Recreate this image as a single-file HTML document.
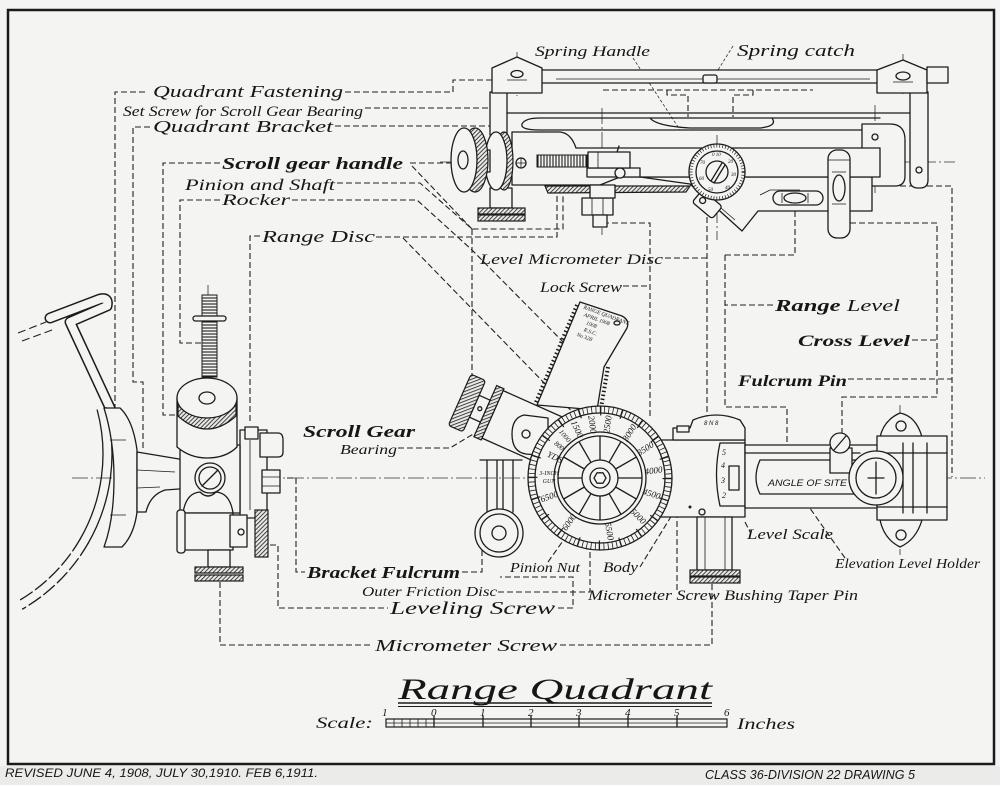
<!DOCTYPE html>
<html><head><meta charset="utf-8"><title>Range Quadrant</title>
<style>
html,body{margin:0;padding:0;background:#f4f4f2;width:1000px;height:785px;overflow:hidden}
svg{display:block}
.s{fill:none;stroke:#1c1c1c;stroke-width:1.3;stroke-linejoin:round;stroke-linecap:round}
.t{fill:none;stroke:#1c1c1c;stroke-width:0.8}
.f{fill:#f4f4f2;stroke:#1c1c1c;stroke-width:1.3;stroke-linejoin:round}
.k{fill:url(#kn);stroke:#1c1c1c;stroke-width:1.2}
.d{fill:none;stroke:#222;stroke-width:1.1;stroke-dasharray:6 3}
.c{fill:none;stroke:#333;stroke-width:0.8;stroke-dasharray:16 3 2 3}
text{fill:#161616;font-family:"Liberation Serif",serif;font-style:italic}
.b{font-weight:bold}
.sn{font-family:"Liberation Sans",sans-serif}
</style></head><body>
<svg width="1000" height="785" viewBox="0 0 1000 785" xmlns="http://www.w3.org/2000/svg">
<defs>
<pattern id="kn" width="3" height="3" patternUnits="userSpaceOnUse" patternTransform="rotate(45)"><rect width="3" height="3" fill="#e8e8e6"/><line x1="0" y1="0" x2="0" y2="3" stroke="#1c1c1c" stroke-width="1.6"/></pattern>
<pattern id="th" width="4" height="3" patternUnits="userSpaceOnUse"><rect width="4" height="3" fill="#f4f4f2"/><line x1="0" y1="1" x2="4" y2="1" stroke="#1c1c1c" stroke-width="1.1"/></pattern>
<pattern id="tv" width="3" height="4" patternUnits="userSpaceOnUse"><rect width="3" height="4" fill="#f4f4f2"/><line x1="1" y1="0" x2="1" y2="4" stroke="#1c1c1c" stroke-width="1.1"/></pattern>
</defs>

<rect x="0" y="766" width="1000" height="19" fill="#ebebe9"/>
<rect x="8" y="10" width="986" height="754" fill="none" stroke="#1a1a1a" stroke-width="2.5"/>

<!-- ================= CENTER LINES ================= -->
<path class="c" d="M440,162 L955,162"/>
<path class="c" d="M72,478 L985,478"/>
<path class="c" d="M208,285 L208,562 M602,108 L602,235 M717,135 L717,240 M875,105 L875,195 M517,52 L517,96 M903,54 L903,97 M900,405 L900,555"/>

<!-- ================= DASHED LEADERS ================= -->
<g class="d">
<path d="M115,410 L115,92 L148,92"/>
<path d="M345,92 L453,92 L453,80 L492,80"/>
<path d="M365,108 L498,108 L498,128"/>
<path d="M150,127 L133,127 L133,382 L143,382 L143,450"/>
<path d="M335,126 L490,126"/>
<path d="M220,163 L163,163 L163,415 L183,415"/>
<path d="M410,163 L452,163"/>
<path d="M412,166 L472,229"/>
<path d="M337,183 L420,183 L472,229 L563,229 L563,187"/>
<path d="M220,200 L180,200 L180,343 L203,343"/>
<path d="M292,200 L417,200 L472,250 L578,357"/>
<path d="M472,229 L472,377"/>
<path d="M260,236 L250,236 L250,423"/>
<path d="M376,237 L557,237 L557,187"/>
<path d="M403,238 L590,430"/>
<path d="M665,258 L707,258"/>
<path d="M707,190 L707,417"/>
<path d="M623,286 L650,286"/>
<path d="M603,223 L650,223 L650,417"/>
<path d="M773,305 L725,305"/>
<path d="M725,255 L725,407 L787,407 L787,472"/>
<path d="M725,255 L795,255 L795,206"/>
<path d="M912,340 L937,340"/>
<path d="M850,223 L937,223 L937,397 L842,397 L842,433"/>
<path d="M848,379 L952,379"/>
<path d="M873,186 L952,186 L952,477"/>
<path d="M603,90 L813,90"/>
<path d="M667,90 L667,95 L688,95 L688,117 M753,90 L753,95 L733,95 L733,117"/>
<path d="M398,448 L450,448 L480,430"/>
<path d="M287,478 L296,478 L296,572 L305,572"/>
<path d="M462,572 L482,572 L482,545"/>
<path d="M498,592 L590,592 L590,550"/>
<path d="M270,545 L278,545 L278,608 L388,608"/>
<path d="M558,608 L573,608 L573,577 L500,577"/>
<path d="M220,582 L220,645 L373,645"/>
<path d="M560,645 L712,645 L712,584"/>
<path d="M548,562 L572,528"/>
<path d="M640,567 L683,497"/>
<path d="M677,590 L677,510"/>
<path d="M745,522 L750,532"/>
<path d="M845,558 L795,487"/>
<path d="M18,333 L46,322 M22,341 L52,330" style="stroke-dasharray:8 4"/>
</g>
<path d="M633,58 L680,130 M733,46 L713,78" fill="none" stroke="#333" stroke-width="0.8" stroke-dasharray="3 2"/>

<!-- ================= TOP ASSEMBLY ================= -->
<path class="f" d="M490,92 L490,135 L507,135 L507,92 Z"/>
<path class="f" d="M910,92 L910,180 Q910,188 918,188 L920,188 Q928,188 928,180 L928,92 Z"/>
<circle class="s" cx="919" cy="170" r="3"/>
<path class="f" d="M540,70 L880,70 L880,83 L540,83 Z"/>
<path class="t" d="M556,79 L870,79"/>
<path class="f" d="M492,93 L492,68 L517,57 L542,68 L542,93 Z"/>
<path class="f" d="M877,93 L877,70 L903,60 L927,70 L927,93 Z"/>
<rect class="f" x="927" y="67" width="21" height="16"/>
<ellipse class="s" cx="517" cy="74" rx="6" ry="3.5"/>
<ellipse class="s" cx="903" cy="76" rx="7" ry="4"/>
<path class="t" d="M507,80 L527,80 M893,82 L913,82"/>
<rect class="f" x="703" y="75" width="14" height="8" rx="2"/>
<path class="s" d="M507,113 L910,113"/>
<path class="s" d="M540,130 L880,130 M540,130 Q520,130 522,124 Q525,118 540,118 L880,118"/>
<path class="s" d="M650,118 Q656,126 690,128 L760,128 Q778,126 772,118"/>
<path class="f" d="M862,124 L890,124 Q905,124 905,140 L905,176 Q905,186 895,186 L862,186 Z"/>
<circle class="s" cx="875" cy="137" r="3"/>
<!-- lower plate -->
<path class="f" d="M640,177 L690,184 L742,231 L758,211 L872,211 L872,177 Z"/>
<path class="t" d="M700,190 L735,220 M760,195 L770,190 L800,190"/>
<!-- main bar -->
<path class="f" d="M512,132 L560,132 Q571,133 576,148 L880,148 L880,177 L620,177 L600,185 L512,185 Z"/>
<path class="k" d="M545,186 L690,186 L686,192 L548,193 Z"/>
<!-- threaded rod & sleeve -->
<rect x="537" y="155" width="50" height="12" fill="url(#tv)" stroke="#1c1c1c" stroke-width="1"/>
<rect class="f" x="587" y="168" width="53" height="9"/>
<rect class="f" x="588" y="152" width="42" height="16"/>
<path class="t" d="M598,152 L598,168"/>
<circle class="f" cx="620" cy="173" r="5"/>
<path class="s" d="M617,152 L619,146"/>
<!-- nut -->
<rect class="f" x="582" y="198" width="31" height="17"/>
<path class="t" d="M592,198 L592,215 M603,198 L603,215"/>
<rect class="f" x="593" y="215" width="14" height="12"/>
<rect class="f" x="590" y="185" width="25" height="13"/>
<!-- knobs -->
<rect class="f" x="490" y="188" width="22" height="20"/>
<rect class="k" x="478" y="208" width="47" height="6"/>
<rect class="k" x="478" y="215" width="47" height="6"/>
<ellipse class="k" cx="504" cy="161" rx="9" ry="29"/>
<ellipse class="f" cx="496" cy="161" rx="11" ry="29"/>
<rect class="f" x="484" y="150" width="6" height="22"/>
<ellipse class="k" cx="475" cy="160" rx="13" ry="32"/>
<ellipse class="f" cx="464" cy="160" rx="13" ry="32"/>
<ellipse class="f" cx="463" cy="160" rx="5" ry="9"/>
<circle class="f" cx="521" cy="163" r="5"/>
<path class="t" d="M516,163 L526,163 M521,158 L521,168"/>
<!-- dial -->
<g transform="rotate(40 708 205)"><rect class="f" x="694" y="197" width="26" height="16" rx="3"/><circle class="s" cx="701" cy="205" r="3"/></g>
<circle class="f" cx="717" cy="172" r="28"/>
<circle cx="717" cy="172" r="26" fill="none" stroke="#1c1c1c" stroke-width="3" stroke-dasharray="0.7 2.2"/>
<circle class="s" cx="717" cy="172" r="21"/>
<circle class="f" cx="717" cy="172" r="11"/>
<path class="s" d="M711,181 L722,163 M714,183 L725,165"/>
<g font-size="5" class="sn" font-style="normal">
<text x="712" y="156">0 10</text><text x="728" y="163">20</text><text x="731" y="176">30</text><text x="725" y="189">40</text><text x="708" y="191">50</text><text x="699" y="180">60</text><text x="700" y="164">70</text>
</g>
<!-- levels -->
<rect class="f" x="773" y="191" width="50" height="14" rx="7"/>
<ellipse class="s" cx="795" cy="198" rx="11" ry="5"/>
<path class="t" d="M782,193 L782,203 M808,193 L808,203"/>
<rect class="f" x="828" y="150" width="22" height="88" rx="9"/>
<ellipse class="s" cx="839" cy="188" rx="6" ry="13"/>
<path class="t" d="M832,172 L846,172 M832,204 L846,204 M828,160 L850,160"/>

<!-- ================= LEFT BRACKET ASSEMBLY ================= -->
<path d="M50,318 L100,299 Q109,297 107,306 L70,322 L110,408" fill="none" stroke="#1c1c1c" stroke-width="11" stroke-linejoin="round" stroke-linecap="round"/>
<path d="M50,318 L100,299 Q109,297 107,306 L70,322 L110,408" fill="none" stroke="#f4f4f2" stroke-width="8" stroke-linejoin="round" stroke-linecap="round"/>
<path class="s" d="M105.9,407.7 A179,179 0 0 1 88,543.5 M97.2,410 A170,170 0 0 1 80.2,539"/>
<path class="s" style="stroke-dasharray:14 4" d="M88,543.5 A179,179 0 0 1 22.5,609 M80.2,539 A170,170 0 0 1 18,601.2"/>
<path class="f" d="M104,408 L120,408 Q133,420 137,450 L137,512 Q134,535 122,547 L104,547 Q114,520 114,478 Q114,440 104,408 Z"/>
<path class="t" d="M110,440 L126,440 M110,515 L126,515"/>
<path class="f" d="M137,452 L185,460 L193,470 L193,488 L165,490 Q150,495 146,512 L137,512 Z"/>
<path class="t" d="M137,470 L175,472 M137,488 L160,487"/>
<!-- right plate -->
<rect class="f" x="240" y="430" width="27" height="88"/>
<rect class="f" x="245" y="427" width="13" height="12"/>
<path class="f" d="M260,433 L278,433 Q283,433 283,440 L283,452 Q283,457 278,457 L260,457 Z"/>
<rect class="f" x="262" y="470" width="18" height="23"/>
<path class="t" d="M262,477 L280,477 M262,486 L280,486 M250,440 L250,510"/>
<!-- body -->
<path class="f" d="M180,445 L240,445 L240,513 L180,513 Z"/>
<path class="f" d="M183,513 Q186,493 200,492 Q208,500 216,492 Q230,493 233,513 Z"/>
<rect class="f" x="183" y="513" width="50" height="37"/>
<rect class="f" x="177" y="510" width="8" height="43" rx="3"/>
<rect class="f" x="230" y="515" width="17" height="32"/>
<circle class="s" cx="241" cy="532" r="3"/>
<rect class="k" x="255" y="510" width="13" height="47"/>
<rect class="f" x="208" y="550" width="22" height="17"/>
<rect class="k" x="195" y="567" width="48" height="6"/>
<rect class="k" x="195" y="575" width="48" height="6"/>
<circle class="f" cx="210" cy="478" r="15"/>
<circle class="s" cx="210" cy="478" r="11"/>
<path class="s" d="M202,486 L218,470"/>
<!-- vertical knob cylinder -->
<path class="f" d="M177,398 L177,447 Q190,458 207,458 Q226,458 237,447 L237,398 Z"/>
<path class="k" d="M178,404 Q207,430 236,404 L236,416 Q207,442 178,416 Z"/>
<ellipse class="f" cx="207" cy="398" rx="30" ry="20"/>
<ellipse class="s" cx="207" cy="398" rx="8" ry="6"/>
<rect x="202" y="295" width="15" height="82" fill="url(#th)" stroke="#1c1c1c" stroke-width="1"/>
<rect class="f" x="193" y="316" width="33" height="5" rx="2.5"/>

<!-- ================= CENTRAL: QUADRANT PLATE, BEARING, DISC ================= -->
<path class="f" d="M580,302 L622,316 Q630,320 627,328 L604,367 L597,410 L537,405 Z"/>
<path d="M577,305 L534,407" fill="none" stroke="#1c1c1c" stroke-width="4" stroke-dasharray="1.5 2.5"/>
<path d="M608,367 L601,408" fill="none" stroke="#1c1c1c" stroke-width="4" stroke-dasharray="1.5 2.5"/>
<ellipse class="s" cx="617" cy="323" rx="3" ry="2"/>
<g class="sn" font-style="normal" font-size="5.5" transform="rotate(20 590 310)">
<text x="583" y="311">RANGE QUADRANT</text>
<text x="586" y="318">APRIL 1908</text>
<text x="591" y="325">1908</text>
<text x="591" y="332">R.S.C.</text>
<text x="586" y="339">No 328</text>
</g>
<g transform="translate(467,403) rotate(24)">
<rect class="f" x="28" y="-26" width="90" height="52"/>
<rect class="k" x="20" y="-28" width="8" height="56"/>
<rect class="f" x="8" y="-12" width="12" height="24"/>
<circle class="s" cx="14" cy="0" r="2"/>
<rect class="k" x="-8" y="-28" width="16" height="56" rx="3"/>
</g>
<path class="f" d="M548,418 L524,415 Q512,418 512,434 Q512,452 526,454 L548,456 Z"/>
<circle class="s" cx="526" cy="434" r="4"/>
<path class="s" d="M480,460 L522,460 M487,460 L487,512 M497,460 L497,512 M503,460 L503,512 M513,460 L513,512"/>
<circle class="f" cx="499" cy="533" r="24"/>
<circle class="s" cx="499" cy="533" r="19"/>
<circle class="s" cx="499" cy="533" r="7"/>
<!-- lower right body behind disc -->
<rect class="f" x="640" y="440" width="105" height="77"/>
<path class="f" d="M673,440 L673,428 L690,428 L693,420 Q716,410 740,420 L745,428 L745,440 Z"/>
<rect class="f" x="677" y="426" width="12" height="6"/>
<text class="sn" font-style="normal" font-size="6" x="704" y="425">8 N 8</text>
<circle class="s" cx="702" cy="512" r="3"/>
<circle cx="690" cy="507" r="1.5" fill="#1c1c1c"/>
<!-- disc -->
<circle class="f" cx="600" cy="478" r="72"/>
<circle cx="600" cy="478" r="68.5" fill="none" stroke="#1c1c1c" stroke-width="6" stroke-dasharray="0.8 3.5"/>
<circle cx="600" cy="478" r="67" fill="none" stroke="#1c1c1c" stroke-width="9" stroke-dasharray="1.2 19.85"/>
<circle class="s" cx="600" cy="478" r="65"/>
<circle class="s" cx="600" cy="478" r="46"/>
<circle class="s" cx="600" cy="478" r="42"/>
<g transform="translate(600,478)" class="s">
<line x1="18" y1="0" x2="42" y2="0"/>
<line x1="18" y1="0" x2="42" y2="0" transform="rotate(30)"/>
<line x1="18" y1="0" x2="42" y2="0" transform="rotate(60)"/>
<line x1="18" y1="0" x2="42" y2="0" transform="rotate(90)"/>
<line x1="18" y1="0" x2="42" y2="0" transform="rotate(120)"/>
<line x1="18" y1="0" x2="42" y2="0" transform="rotate(150)"/>
<line x1="18" y1="0" x2="42" y2="0" transform="rotate(180)"/>
<line x1="18" y1="0" x2="42" y2="0" transform="rotate(210)"/>
<line x1="18" y1="0" x2="42" y2="0" transform="rotate(240)"/>
<line x1="18" y1="0" x2="42" y2="0" transform="rotate(270)"/>
<line x1="18" y1="0" x2="42" y2="0" transform="rotate(300)"/>
<line x1="18" y1="0" x2="42" y2="0" transform="rotate(330)"/>
</g>
<circle class="f" cx="600" cy="478" r="18"/>
<circle class="s" cx="600" cy="478" r="10"/>
<path class="s" d="M606,478 L603,483.2 L597,483.2 L594,478 L597,472.8 L603,472.8 Z"/>
<g class="sn" font-style="normal" font-size="9" text-anchor="middle" dominant-baseline="central">
<text transform="translate(592.5,424.5) rotate(82)">2000</text>
<text transform="translate(607.5,424.5) rotate(-82)">2500</text>
<text transform="translate(629.4,432.7) rotate(-57)">3000</text>
<text transform="translate(645.3,448.6) rotate(-33)">3500</text>
<text transform="translate(653.5,470.5) rotate(-8)">4000</text>
<text transform="translate(651.6,493.8) rotate(17)">4500</text>
<text transform="translate(638.2,516.2) rotate(45)">5000</text>
<text transform="translate(609.4,531.2) rotate(80)">5500</text>
<text transform="translate(569,522.2) rotate(-55)">6000</text>
<text transform="translate(549.2,496.5) rotate(-20)">6500</text>
<text transform="translate(577.2,429.1) rotate(65)">1500</text>
<text font-size="7" transform="translate(564.6,436) rotate(50)">1000</text>
<text font-size="7" transform="translate(559,446) rotate(40)">800</text>
<text transform="translate(555,457) rotate(25)">YDS</text>
<text font-size="6" x="549" y="474">3-INCH</text>
<text font-size="6" x="549" y="482">GUN</text>
</g>

<!-- ================= LOWER RIGHT: LEVEL HOLDER ================= -->
<path class="f" d="M720,443 Q713,474 720,506 L745,506 L745,443 Z"/>
<g class="sn" font-style="normal" font-size="8"><text x="722" y="455">5</text><text x="721" y="468">4</text><text x="721" y="483">3</text><text x="722" y="498">2</text></g>
<rect class="f" x="729" y="466" width="10" height="24"/>
<path class="f" d="M745,445 L880,445 L880,508 L745,508 Z"/>
<path class="s" d="M745,453 L860,453 M760,460 Q752,478 760,494 L865,494 M760,460 L865,460"/>
<rect class="f" x="830" y="448" width="22" height="25"/>
<circle class="f" cx="840" cy="443" r="10"/>
<path class="s" d="M834,450 L846,436"/>
<path class="f" d="M880,437 Q884,420 900,413 Q916,416 922,437 Z"/>
<circle class="s" cx="901" cy="426" r="5"/>
<path class="f" d="M880,520 Q884,539 900,547 Q916,540 922,520 Z"/>
<circle class="s" cx="901" cy="535" r="5"/>
<rect class="f" x="877" y="436" width="70" height="84"/>
<path class="s" d="M903,443 L903,513 M913,443 L913,513 M927,443 L927,513 M877,453 L947,453 M877,507 L947,507"/>
<circle class="f" cx="876" cy="478" r="27"/>
<circle class="s" cx="876" cy="478" r="20"/>
<path class="s" d="M876,462 L876,494 M868,478 L884,478"/>
<rect class="f" x="697" y="517" width="35" height="53"/>
<path class="t" d="M705,517 L705,570 M725,517 L725,570"/>
<rect class="k" x="690" y="570" width="50" height="6"/>
<rect class="k" x="690" y="577" width="50" height="6"/>

<!-- ================= LABELS ================= -->
<text x="153" y="97" font-size="17" textLength="190" lengthAdjust="spacingAndGlyphs">Quadrant Fastening</text>
<text x="123" y="116" font-size="15" textLength="240" lengthAdjust="spacingAndGlyphs">Set Screw for Scroll Gear Bearing</text>
<text x="153" y="132" font-size="17" textLength="180" lengthAdjust="spacingAndGlyphs">Quadrant Bracket</text>
<text class="b" x="222" y="169" font-size="17" textLength="181" lengthAdjust="spacingAndGlyphs">Scroll gear handle</text>
<text x="185" y="190" font-size="16" textLength="150" lengthAdjust="spacingAndGlyphs">Pinion and Shaft</text>
<text x="222" y="205" font-size="16" textLength="68" lengthAdjust="spacingAndGlyphs">Rocker</text>
<text x="262" y="242" font-size="17" textLength="113" lengthAdjust="spacingAndGlyphs">Range Disc</text>
<text x="535" y="56" font-size="15" textLength="115" lengthAdjust="spacingAndGlyphs">Spring Handle</text>
<text x="737" y="56" font-size="17" textLength="118" lengthAdjust="spacingAndGlyphs">Spring catch</text>
<text x="480" y="264" font-size="15" textLength="183" lengthAdjust="spacingAndGlyphs">Level Micrometer Disc</text>
<text x="540" y="292" font-size="15" textLength="82" lengthAdjust="spacingAndGlyphs">Lock Screw</text>
<text x="775" y="311" font-size="17" textLength="125" lengthAdjust="spacingAndGlyphs"><tspan class="b">Range</tspan> Level</text>
<text class="b" x="798" y="346" font-size="16" textLength="112" lengthAdjust="spacingAndGlyphs">Cross Level</text>
<text class="b" x="738" y="386" font-size="16" textLength="109" lengthAdjust="spacingAndGlyphs">Fulcrum Pin</text>
<text class="b" x="303" y="437" font-size="17" textLength="112" lengthAdjust="spacingAndGlyphs">Scroll Gear</text>
<text x="340" y="454" font-size="14" textLength="57" lengthAdjust="spacingAndGlyphs">Bearing</text>
<text class="sn" x="768" y="486" font-size="9" textLength="79" lengthAdjust="spacingAndGlyphs">ANGLE OF SITE</text>
<text x="747" y="539" font-size="15" textLength="86" lengthAdjust="spacingAndGlyphs">Level Scale</text>
<text x="835" y="568" font-size="14" textLength="145" lengthAdjust="spacingAndGlyphs">Elevation Level Holder</text>
<text x="510" y="572" font-size="14" textLength="70" lengthAdjust="spacingAndGlyphs">Pinion Nut</text>
<text x="603" y="572" font-size="15" textLength="35" lengthAdjust="spacingAndGlyphs">Body</text>
<text class="b" x="307" y="578" font-size="17" textLength="153" lengthAdjust="spacingAndGlyphs">Bracket Fulcrum</text>
<text x="362" y="596" font-size="14" textLength="135" lengthAdjust="spacingAndGlyphs">Outer Friction Disc</text>
<text x="390" y="614" font-size="18" textLength="165" lengthAdjust="spacingAndGlyphs">Leveling Screw</text>
<text x="588" y="600" font-size="15" textLength="270" lengthAdjust="spacingAndGlyphs">Micrometer Screw Bushing Taper Pin</text>
<text x="375" y="651" font-size="17" textLength="182" lengthAdjust="spacingAndGlyphs">Micrometer Screw</text>

<!-- ================= TITLE & SCALE ================= -->
<text x="398" y="699" font-size="30" textLength="314" lengthAdjust="spacingAndGlyphs">Range  Quadrant</text>
<path d="M398,703 L712,703" stroke="#1c1c1c" stroke-width="1.6"/>
<path d="M398,706.5 L712,706.5" stroke="#1c1c1c" stroke-width="1"/>
<text x="316" y="728" font-size="16" textLength="57" lengthAdjust="spacingAndGlyphs">Scale:</text>
<rect x="386" y="719" width="341" height="8" fill="none" stroke="#1c1c1c" stroke-width="1.2"/>
<path class="t" d="M386,723 L727,723 M394,719 L394,727 M402,719 L402,727 M410,719 L410,727 M418,719 L418,727 M426,719 L426,727"/>
<path class="s" d="M434,716 L434,727 M483,716 L483,727 M531,716 L531,727 M579,716 L579,727 M628,716 L628,727 M677,716 L677,727"/>
<g font-size="11">
<text x="382" y="716">1</text><text x="431" y="716">0</text><text x="480" y="716">1</text><text x="528" y="716">2</text><text x="576" y="716">3</text><text x="625" y="716">4</text><text x="674" y="716">5</text><text x="724" y="716">6</text>
</g>
<text x="737" y="729" font-size="16" textLength="58" lengthAdjust="spacingAndGlyphs">Inches</text>

<text class="sn" x="5" y="777" font-size="12" textLength="313" lengthAdjust="spacingAndGlyphs">REVISED  JUNE 4, 1908,  JULY 30,1910. FEB 6,1911.</text>
<text class="sn" x="705" y="779" font-size="13" textLength="210" lengthAdjust="spacingAndGlyphs">CLASS 36-DIVISION 22 DRAWING 5</text>
</svg>
</body></html>
